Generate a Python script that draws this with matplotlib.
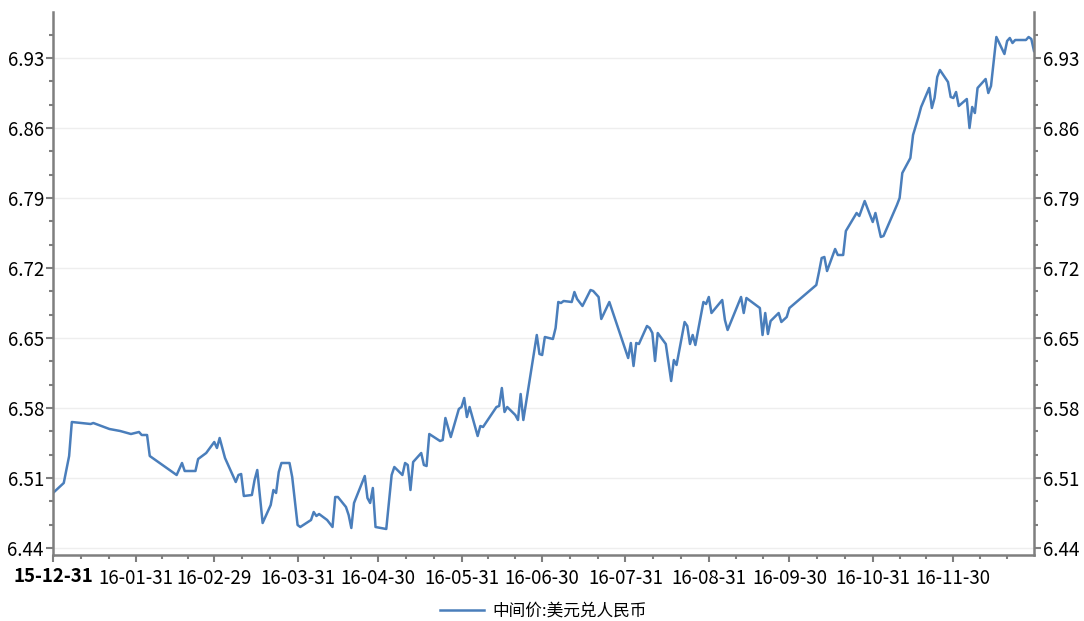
import matplotlib
matplotlib.use('Agg')
import matplotlib.pyplot as plt
import matplotlib.dates as mdates
import numpy as np
import pandas as pd

plt.rcParams['font.family'] = ['Noto Sans CJK SC', 'DejaVu Sans']

# central parity USD/CNY
dates = [
    '2015-12-31', '2016-01-04', '2016-01-06', '2016-01-07', '2016-01-14', '2016-01-15',
    '2016-01-18', '2016-01-20', '2016-01-21', '2016-01-25', '2016-01-29', '2016-02-01',
    '2016-02-02', '2016-02-04', '2016-02-05', '2016-02-15', '2016-02-17', '2016-02-18',
    '2016-02-22', '2016-02-23', '2016-02-26', '2016-02-29', '2016-03-01', '2016-03-02',
    '2016-03-04', '2016-03-08', '2016-03-09', '2016-03-10', '2016-03-11', '2016-03-14',
    '2016-03-15', '2016-03-16', '2016-03-18', '2016-03-21', '2016-03-22', '2016-03-23',
    '2016-03-24', '2016-03-25', '2016-03-28', '2016-03-29', '2016-03-31', '2016-04-01',
    '2016-04-05', '2016-04-06', '2016-04-07', '2016-04-08', '2016-04-11', '2016-04-13',
    '2016-04-14', '2016-04-15', '2016-04-18', '2016-04-19', '2016-04-20', '2016-04-21',
    '2016-04-25', '2016-04-26', '2016-04-27', '2016-04-28', '2016-04-29', '2016-05-03',
    '2016-05-05', '2016-05-06', '2016-05-09', '2016-05-10', '2016-05-11', '2016-05-12',
    '2016-05-13', '2016-05-16', '2016-05-17', '2016-05-18', '2016-05-19', '2016-05-23',
    '2016-05-24', '2016-05-25', '2016-05-27', '2016-05-30', '2016-05-31', '2016-06-01',
    '2016-06-02', '2016-06-03', '2016-06-06', '2016-06-07', '2016-06-08', '2016-06-13',
    '2016-06-14', '2016-06-15', '2016-06-16', '2016-06-17', '2016-06-20', '2016-06-21',
    '2016-06-22', '2016-06-23', '2016-06-28', '2016-06-29', '2016-06-30', '2016-07-01',
    '2016-07-04', '2016-07-05', '2016-07-06', '2016-07-07', '2016-07-08', '2016-07-11',
    '2016-07-12', '2016-07-13', '2016-07-15', '2016-07-18', '2016-07-19', '2016-07-21',
    '2016-07-22', '2016-07-25', '2016-08-01', '2016-08-02', '2016-08-03', '2016-08-04',
    '2016-08-05', '2016-08-08', '2016-08-09', '2016-08-10', '2016-08-11', '2016-08-12',
    '2016-08-15', '2016-08-17', '2016-08-18', '2016-08-19', '2016-08-22', '2016-08-23',
    '2016-08-24', '2016-08-25', '2016-08-26', '2016-08-29', '2016-08-30', '2016-08-31',
    '2016-09-01', '2016-09-05', '2016-09-06', '2016-09-07', '2016-09-12', '2016-09-13',
    '2016-09-14', '2016-09-19', '2016-09-20', '2016-09-21', '2016-09-22', '2016-09-23',
    '2016-09-26', '2016-09-27', '2016-09-29', '2016-09-30', '2016-10-10', '2016-10-11',
    '2016-10-12', '2016-10-13', '2016-10-14', '2016-10-17', '2016-10-18', '2016-10-20',
    '2016-10-21', '2016-10-25', '2016-10-26', '2016-10-28', '2016-10-31', '2016-11-01',
    '2016-11-03', '2016-11-04', '2016-11-09', '2016-11-10', '2016-11-11', '2016-11-14',
    '2016-11-15', '2016-11-17', '2016-11-18', '2016-11-21', '2016-11-22', '2016-11-23',
    '2016-11-24', '2016-11-25', '2016-11-28', '2016-11-29', '2016-11-30', '2016-12-01',
    '2016-12-02', '2016-12-05', '2016-12-06', '2016-12-07', '2016-12-08', '2016-12-09',
    '2016-12-12', '2016-12-13', '2016-12-14', '2016-12-16', '2016-12-19', '2016-12-20',
    '2016-12-21', '2016-12-22', '2016-12-23', '2016-12-27', '2016-12-28', '2016-12-29',
    '2016-12-30',
]
rates = [
    6.495, 6.505, 6.532, 6.566, 6.564, 6.565,
    6.562, 6.560, 6.559, 6.557, 6.554, 6.556,
    6.553, 6.553, 6.532, 6.513, 6.525, 6.517,
    6.517, 6.529, 6.535, 6.546, 6.540, 6.550,
    6.530, 6.506, 6.513, 6.514, 6.492, 6.493,
    6.508, 6.518, 6.465, 6.483, 6.498, 6.495,
    6.516, 6.525, 6.525, 6.511, 6.463, 6.461,
    6.468, 6.476, 6.472, 6.474, 6.468, 6.461,
    6.491, 6.491, 6.481, 6.473, 6.460, 6.485,
    6.512, 6.490, 6.485, 6.500, 6.461, 6.459,
    6.513, 6.521, 6.513, 6.525, 6.523, 6.498,
    6.526, 6.535, 6.523, 6.522, 6.554, 6.547,
    6.548, 6.570, 6.551, 6.579, 6.581, 6.590,
    6.571, 6.581, 6.552, 6.562, 6.561, 6.581,
    6.582, 6.600, 6.576, 6.581, 6.573, 6.568,
    6.594, 6.568, 6.653, 6.634, 6.633, 6.651,
    6.649, 6.660, 6.686, 6.685, 6.687, 6.686,
    6.696, 6.689, 6.682, 6.698, 6.697, 6.691,
    6.669, 6.686, 6.630, 6.645, 6.622, 6.645,
    6.644, 6.662, 6.660, 6.655, 6.627, 6.655,
    6.644, 6.607, 6.628, 6.623, 6.666, 6.662,
    6.644, 6.653, 6.643, 6.686, 6.684, 6.691,
    6.675, 6.688, 6.668, 6.658, 6.691, 6.675,
    6.690, 6.680, 6.653, 6.675, 6.654, 6.667,
    6.675, 6.666, 6.671, 6.680, 6.703, 6.716,
    6.730, 6.731, 6.717, 6.739, 6.733, 6.733,
    6.757, 6.775, 6.772, 6.787, 6.766, 6.775,
    6.751, 6.752, 6.783, 6.790, 6.815, 6.830,
    6.853, 6.871, 6.881, 6.900, 6.880, 6.890,
    6.911, 6.918, 6.906, 6.891, 6.890, 6.896,
    6.882, 6.889, 6.860, 6.881, 6.875, 6.900,
    6.909, 6.895, 6.902, 6.951, 6.934, 6.947,
    6.950, 6.945, 6.948, 6.948, 6.951, 6.949,
    6.937,
]

# month-end tick dates (last one is the axis end, unlabeled)
tick_dates = ['2015-12-31', '2016-01-31', '2016-02-29', '2016-03-31', '2016-04-30',
              '2016-05-31', '2016-06-30', '2016-07-31', '2016-08-31', '2016-09-30',
              '2016-10-31', '2016-11-30', '2016-12-30']
y_ticks = [6.44, 6.51, 6.58, 6.65, 6.72, 6.79, 6.86, 6.93]
series_name = '中间价:美元兑人民币'

x = pd.to_datetime(dates)
ticks = mdates.date2num(pd.to_datetime(tick_dates))

fig = plt.figure(figsize=(10.84, 6.21), dpi=100)
ax = fig.add_axes([53 / 1084, 1 - 555 / 621, 981 / 1084, 543 / 621])

ax.plot(x, rates, color='#4a7ebb', lw=1.8, label=series_name)

ax.set_xlim(ticks[0], ticks[-1])
ax.set_ylim(6.433, 6.976)

# x ticks: month ends + two minor ticks in between
ax.set_xticks(ticks[:-1])
ax.set_xticklabels([pd.Timestamp(d).strftime('%y-%m-%d') for d in tick_dates[:-1]])
ax.get_xticklabels()[0].set_fontweight('bold')
minor_x = []
for a, b in zip(ticks[:-1], ticks[1:]):
    minor_x += [a + (b - a) / 3, a + 2 * (b - a) / 3]
ax.set_xticks(minor_x, minor=True)

ax.set_yticks(y_ticks)
ax.set_yticklabels(['%.2f' % v for v in y_ticks])
minor_y = []
for a in y_ticks:
    minor_y += [a + 0.07 / 3, a + 0.14 / 3]
ax.set_yticks([v for v in minor_y if v < 6.976], minor=True)

ax.yaxis.set_ticks_position('both')
ax.tick_params(axis='y', which='both', labelleft=True, labelright=True)
ax.tick_params(which='major', length=5, width=1.5, color='#7f7f7f', labelsize=13.5, pad=1.5)
ax.tick_params(which='minor', length=3, width=1.5, color='#7f7f7f')
ax.tick_params(axis='x', which='major', pad=4)

ax.grid(axis='y', which='major', color='#eeeeee', lw=1)
ax.set_axisbelow(True)

for side in ['left', 'right', 'bottom']:
    ax.spines[side].set_color('#7f7f7f')
    ax.spines[side].set_linewidth(1.8)
ax.spines['top'].set_visible(False)

ax.legend(loc='center', bbox_to_anchor=(0.5, -0.103), frameon=False,
          fontsize=12, handlelength=2.6, handletextpad=0.5, borderpad=0)

fig.savefig('out.png', dpi=100)
